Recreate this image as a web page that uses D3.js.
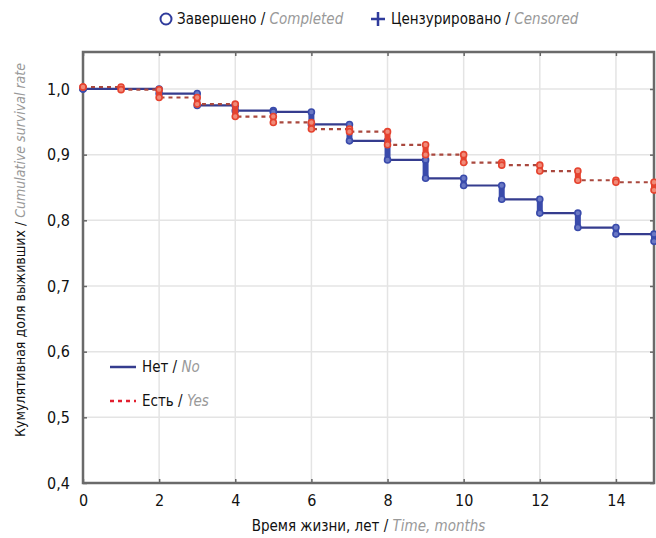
<!DOCTYPE html>
<html>
<head>
<meta charset="utf-8">
<script src="https://cdn.jsdelivr.net/npm/d3@7"></script>
<style>
  body { margin: 0; background: #fff; }
  svg { display: block; font-family: "Liberation Sans Narrow", "DejaVu Sans Condensed", "Roboto", sans-serif; font-stretch: condensed; }
</style>
</head>
<body>
<svg id="chart" width="656" height="538"></svg>
<script>
// time points (years) and survival after each step
const times = [0, 1, 2, 3, 4, 5, 6, 7, 8, 9, 10, 11, 12, 13, 14, 15];
const survNo  = [1.000, 1.000, 0.993, 0.975, 0.967, 0.965, 0.946, 0.921, 0.892, 0.864, 0.853, 0.832, 0.811, 0.789, 0.779, 0.768];
const survYes = [1.003, 0.999, 0.987, 0.977, 0.958, 0.949, 0.939, 0.935, 0.915, 0.900, 0.888, 0.884, 0.875, 0.861, 0.858, 0.846];
const xTicks = [0, 2, 4, 6, 8, 10, 12, 14];
const yTicks = [0.4, 0.5, 0.6, 0.7, 0.8, 0.9, 1.0];

const series = [
  {name: "Нет", en: "No", surv: survNo, line: "#353c8e", mark: "#3a4bab", fill: "#6a78c4", dash: null},
  {name: "Есть", en: "Yes", surv: survYes, line: "#a9483e", mark: "#e5432f", fill: "#f08a78", dash: "4,4"}
];

var margin = {top: 52, left: 83, right: 2, bottom: 55};
var width = 656 - margin.left - margin.right;
var height = 538 - margin.top - margin.bottom;

var svg = d3.select("#chart");
var g = svg.append("g").attr("transform", "translate(" + margin.left + "," + margin.top + ")");

var x = d3.scaleLinear().domain([0, 15]).range([0, width]);
var y = d3.scaleLinear().domain([0.4, 1.0563]).range([height, 0]);

//grid
g.append("g").selectAll("line").data(xTicks.slice(1)).enter().append("line")
  .attr("x1", d => x(d)).attr("x2", d => x(d)).attr("y1", 0).attr("y2", height)
  .style("stroke", "#e4e4e4").style("stroke-width", 1.5);
g.append("g").selectAll("line").data(yTicks.slice(1)).enter().append("line")
  .attr("y1", d => y(d)).attr("y2", d => y(d)).attr("x1", 0).attr("x2", width)
  .style("stroke", "#e4e4e4").style("stroke-width", 1.5);

//axes (ticks drawn inside)
var fmt = d => d3.format(".1f")(d).replace(".", ",");
g.append("g").attr("transform", "translate(0," + height + ")")
  .call(d3.axisBottom(x).tickValues(xTicks).tickSize(-4).tickPadding(12));
g.append("g")
  .call(d3.axisLeft(y).tickValues(yTicks).tickSize(-4).tickPadding(13).tickFormat(fmt));
g.append("g").call(d3.axisTop(x).tickValues(xTicks).tickSize(-4).tickFormat(""));
g.append("g").attr("transform", "translate(" + width + ",0)")
  .call(d3.axisRight(y).tickValues(yTicks).tickSize(-4).tickFormat(""));
g.selectAll(".domain").remove();
g.selectAll(".tick line").style("stroke", "#666").style("stroke-width", 1.5);
g.selectAll(".tick text").style("font-size", "16px").style("fill", "#111")
  .style("font-family", "'Liberation Sans Narrow', 'DejaVu Sans Condensed', sans-serif");

//frame
g.append("rect").attr("width", width).attr("height", height)
  .style("fill", "none").style("stroke", "#6a6a6a").style("stroke-width", 2.5);

//step lines
var line = d3.line().curve(d3.curveStepAfter).x((d, i) => x(times[i])).y(d => y(d));
series.forEach(s => {
  g.append("path").datum(s.surv)
    .style("fill", "none").style("stroke", s.line).style("stroke-width", 2.2)
    .style("stroke-dasharray", s.dash)
    .attr("d", line);
});

//event markers at each drop
series.forEach(s => {
  var drops = [];
  s.surv.forEach((v, i) => {
    var prev = i === 0 ? v : s.surv[i - 1];
    if (i === 0 || Math.abs(prev - v) > 0.0005) drops.push({t: times[i], a: prev, b: v});
  });
  var mg = g.append("g");
  mg.selectAll("line").data(drops).enter().append("line")
    .attr("x1", d => x(d.t)).attr("x2", d => x(d.t))
    .attr("y1", d => y(d.a)).attr("y2", d => y(d.b))
    .style("stroke", s.mark).style("stroke-width", 6).style("stroke-linecap", "round");
  var pts = [];
  drops.forEach(d => { pts.push({t: d.t, v: d.a}); pts.push({t: d.t, v: d.b}); });
  mg.selectAll("circle").data(pts).enter().append("circle")
    .attr("cx", d => x(d.t)).attr("cy", d => y(d.v)).attr("r", 3)
    .style("fill", s.fill).style("stroke", s.mark).style("stroke-width", 1.6);
});

//inner legend
var lg = g.append("g").attr("transform", "translate(27," + (367 - margin.top) + ")");
series.forEach((s, i) => {
  var row = lg.append("g").attr("transform", "translate(0," + (i * 34) + ")");
  row.append("line").attr("x1", 0).attr("x2", 26)
    .style("stroke", i === 0 ? s.line : "#e21f2f").style("stroke-width", 2.5)
    .style("stroke-dasharray", s.dash);
  var t = row.append("text").attr("x", 32).attr("y", 5).style("font-size", "15px");
  t.append("tspan").style("fill", "#111").text(s.name + " / ");
  t.append("tspan").style("fill", "#999").style("font-style", "italic").text(s.en);
});

//top legend
var leg = svg.append("g");
leg.append("circle").attr("cx", 166).attr("cy", 19).attr("r", 5.5)
  .style("fill", "none").style("stroke", "#2f3b9c").style("stroke-width", 2);
var t1 = leg.append("text").attr("x", 177).attr("y", 24).style("font-size", "15px");
t1.append("tspan").style("fill", "#111").text("Завершено / ");
t1.append("tspan").style("fill", "#999").style("font-style", "italic").text("Completed");
leg.append("path").attr("d", "M371,19h14M378,12v14")
  .style("stroke", "#2f3b9c").style("stroke-width", 2.5);
var t2 = leg.append("text").attr("x", 391).attr("y", 24).style("font-size", "15px");
t2.append("tspan").style("fill", "#111").text("Цензурировано / ");
t2.append("tspan").style("fill", "#999").style("font-style", "italic").text("Censored");

//x label
var xl = svg.append("text").attr("x", margin.left + width / 2).attr("y", 531)
  .attr("text-anchor", "middle").style("font-size", "15px");
xl.append("tspan").style("fill", "#111").text("Время жизни, лет / ");
xl.append("tspan").style("fill", "#999").style("font-style", "italic").text("Time, months");

//y label
var yl = svg.append("text").attr("transform", "translate(25,250) rotate(-90)")
  .attr("text-anchor", "middle").style("font-size", "14px");
yl.append("tspan").style("fill", "#111").text("Кумулятивная доля выживших / ");
yl.append("tspan").style("fill", "#999").style("font-style", "italic").text("Cumulative survival rate");
</script>
</body>
</html>
